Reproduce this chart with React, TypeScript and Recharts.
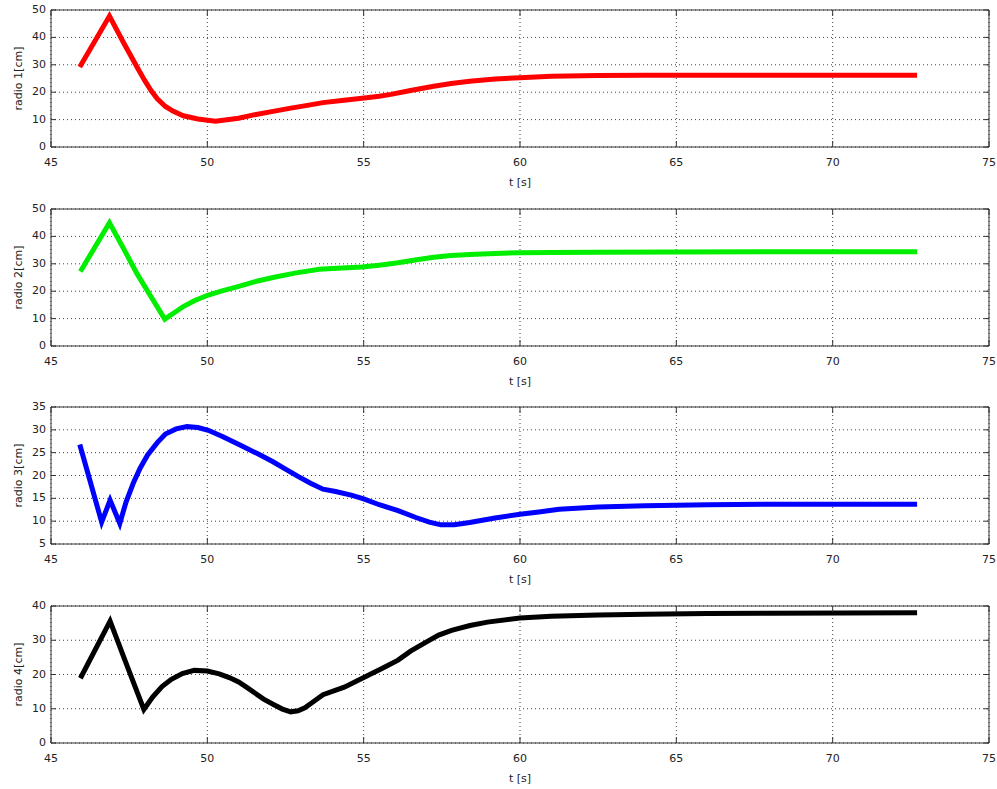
import {
  LineChart,
  Line,
  XAxis,
  YAxis,
  CartesianGrid,
  ReferenceArea,
  Label,
} from "recharts";

// tiempos [s] y radios [cm]
const t1 = [45.92, 46.87, 47.3, 47.75, 48.0, 48.2, 48.4, 48.66, 48.9, 49.23, 49.7, 50.26, 51.0, 51.52, 52.1, 52.67, 53.2, 53.7, 54.3, 54.95, 55.5, 55.87, 56.5, 57.24, 57.8, 58.39, 59.2, 59.99, 61, 62.5, 64, 66, 68, 70, 72.7];
const r1 = [29.2, 47.8, 38.5, 29.2, 24.2, 20.6, 17.6, 14.8, 13.1, 11.4, 10.2, 9.4, 10.5, 11.8, 13, 14.2, 15.2, 16.2, 17, 17.8, 18.5, 19.2, 20.6, 22.2, 23.2, 24, 24.8, 25.3, 25.8, 26.1, 26.2, 26.2, 26.2, 26.2, 26.2];

const t2 = [45.94, 46.87, 47.3, 47.75, 48.2, 48.64, 49.0, 49.23, 49.6, 50.03, 50.5, 50.95, 51.5, 52.1, 52.8, 53.58, 54.3, 54.95, 55.5, 56.1, 56.7, 57.24, 57.8, 58.39, 59.2, 60, 61, 62.5, 65, 68, 72.7];
const r2 = [27.2, 45, 36, 26.4, 18, 9.8, 12.6, 14.4, 16.6, 18.6, 20.2, 21.6, 23.4, 25, 26.6, 28, 28.5, 28.8, 29.5, 30.4, 31.5, 32.4, 33, 33.4, 33.8, 34, 34.1, 34.2, 34.3, 34.4, 34.4];

const t3 = [45.92, 46.62, 46.89, 47.2, 47.4, 47.63, 47.85, 48.09, 48.4, 48.66, 49.0, 49.35, 49.7, 50.03, 50.5, 51.06, 51.6, 52.1, 52.5, 52.9, 53.3, 53.7, 54.1, 54.6, 55.0, 55.5, 56.1, 56.67, 57.1, 57.47, 57.9, 58.39, 59.2, 60, 60.6, 61.25, 62.5, 64, 66, 68, 72.7];
const r3 = [26.8, 9.8, 14.6, 9.5, 14.2, 18.3, 21.6, 24.5, 27.2, 29.1, 30.2, 30.7, 30.5, 29.9, 28.5, 26.6, 24.8, 23, 21.4, 19.8, 18.3, 17, 16.5, 15.7, 14.9, 13.6, 12.3, 10.8, 9.8, 9.2, 9.2, 9.7, 10.7, 11.5, 12, 12.6, 13.1, 13.4, 13.6, 13.7, 13.7];

const t4 = [45.94, 46.89, 47.4, 47.97, 48.25, 48.55, 48.85, 49.2, 49.58, 50.0, 50.38, 50.7, 51.0, 51.25, 51.52, 51.8, 52.1, 52.4, 52.67, 52.9, 53.12, 53.4, 53.7, 54.38, 55.18, 55.6, 56.1, 56.5, 57.01, 57.4, 57.81, 58.4, 58.96, 60, 61, 62.5, 64, 66, 68, 72.7];
const r4 = [18.9, 35.6, 23.3, 9.8, 13.4, 16.5, 18.6, 20.3, 21.2, 21, 20.2, 19.1, 17.8, 16.3, 14.6, 12.8, 11.3, 9.9, 9.1, 9.4, 10.3, 12.1, 14.1, 16.3, 19.9, 21.8, 24.2, 26.8, 29.5, 31.5, 32.9, 34.3, 35.3, 36.5, 37, 37.4, 37.6, 37.8, 37.9, 38];

const xTicks = [45, 50, 55, 60, 65, 70, 75];
const yTicks1 = [0, 10, 20, 30, 40, 50];
const yTicks2 = [0, 10, 20, 30, 40, 50];
const yTicks3 = [5, 10, 15, 20, 25, 30, 35];
const yTicks4 = [0, 10, 20, 30, 40];

const W = 997;
const H = 200;
const TOP = 10;
const BOTTOM = 147;
const LEFT = 51;
const RIGHT = 989;
const FONT = "'DejaVu Sans', sans-serif";

function XTick(props: any) {
  const { x, payload } = props;
  return (
    <g>
      <line x1={x} x2={x} y1={BOTTOM} y2={BOTTOM - 6} stroke="#333" />
      <line x1={x} x2={x} y1={TOP} y2={TOP + 6} stroke="#333" />
      <text x={x} y={BOTTOM + 19} textAnchor="middle" fontSize={11} fill="#222" fontFamily={FONT}>
        {payload.value}
      </text>
    </g>
  );
}

function YTick(props: any) {
  const { y, payload } = props;
  return (
    <g>
      <line x1={LEFT} x2={LEFT + 5} y1={y} y2={y} stroke="#333" />
      <line x1={RIGHT} x2={RIGHT - 5} y1={y} y2={y} stroke="#333" />
      <text x={46} y={y + 3} textAnchor="end" fontSize={11} fill="#222" fontFamily={FONT}>
        {payload.value}
      </text>
    </g>
  );
}

function Panel({ t, r, ticks, color, label, top }: any) {
  const data = t.map((v: number, i: number) => ({ t: v, r: r[i] }));
  const yMin = ticks[0];
  const yMax = ticks[ticks.length - 1];
  return (
    <div style={{ position: "absolute", left: 0, top }}>
      <LineChart width={W} height={H} data={data} margin={{ top: TOP, right: W - RIGHT, bottom: 0, left: 0 }}>
        <CartesianGrid strokeDasharray="1 3" stroke="#444" />
        <XAxis
          dataKey="t"
          type="number"
          domain={[45, 75]}
          ticks={xTicks}
          interval={0}
          height={H - BOTTOM}
          tickLine={false}
          axisLine={false}
          tick={<XTick />}
        >
          <Label
            value="t [s]"
            position="insideBottom"
            offset={14}
            style={{ fontSize: 11, fontFamily: FONT, fill: "#222" }}
          />
        </XAxis>
        <YAxis
          type="number"
          domain={[yMin, yMax]}
          ticks={ticks}
          interval={0}
          width={LEFT}
          tickLine={false}
          axisLine={false}
          tick={<YTick />}
        >
          <Label
            value={label}
            angle={-90}
            position="insideLeft"
            offset={18}
            style={{ textAnchor: "middle", fontSize: 11, fontFamily: FONT, fill: "#222" }}
          />
        </YAxis>
        <ReferenceArea x1={45} x2={75} y1={yMin} y2={yMax} fill="none" stroke="#333" strokeWidth={1} />
        <Line
          dataKey="r"
          type="linear"
          stroke={color}
          strokeWidth={5}
          dot={false}
          isAnimationActive={false}
        />
      </LineChart>
    </div>
  );
}

export default function App() {
  return (
    <div style={{ position: "absolute", left: 0, top: 0, width: W, height: 789, background: "#fff" }}>
      <Panel t={t1} r={r1} ticks={yTicks1} color="#ff0000" label="radio 1[cm]" top={0} />
      <Panel t={t2} r={r2} ticks={yTicks2} color="#00ee00" label="radio 2[cm]" top={199} />
      <Panel t={t3} r={r3} ticks={yTicks3} color="#0000ff" label="radio 3[cm]" top={397} />
      <Panel t={t4} r={r4} ticks={yTicks4} color="#000000" label="radio 4[cm]" top={596} />
    </div>
  );
}
